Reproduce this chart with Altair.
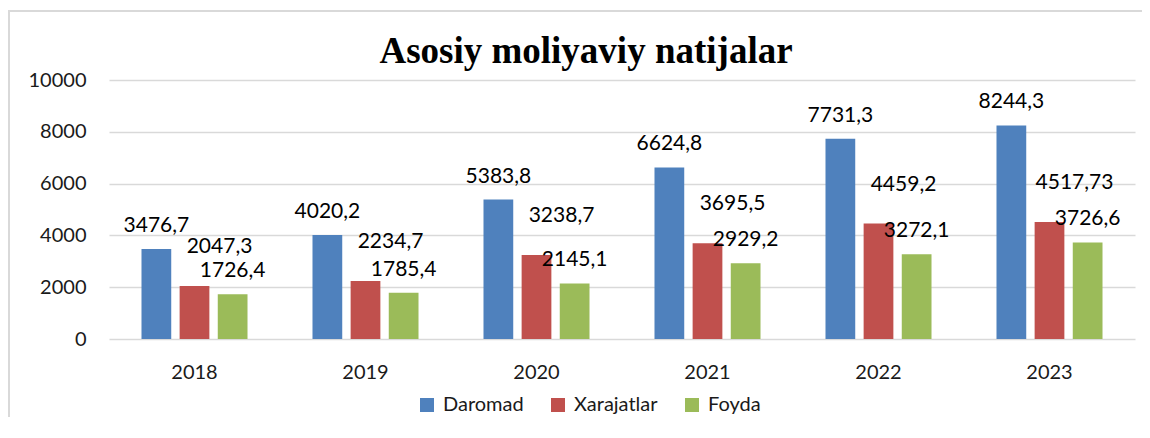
import altair as alt
import pandas as pd

years = ["2018", "2019", "2020", "2021", "2022", "2023"]
series = ["Daromad", "Xarajatlar", "Foyda"]
daromad = [3476.7, 4020.2, 5383.8, 6624.8, 7731.3, 8244.3]
xarajatlar = [2047.3, 2234.7, 3238.7, 3695.5, 4459.2, 4517.73]
foyda = [1726.4, 1785.4, 2145.1, 2929.2, 3272.1, 3726.6]
colors = ["#4F81BD", "#C0504D", "#9BBB59"]
y_ticks = [0, 2000, 4000, 6000, 8000, 10000]
title_text = "Asosiy moliyaviy natijalar"

rows = []
for s, vals in zip(series, [daromad, xarajatlar, foyda]):
    for yr, v in zip(years, vals):
        rows.append({"year": yr, "series": s, "value": v,
                     "label": str(v).replace(".", ",")})
df = pd.DataFrame(rows)

W, H = 1026, 259
txt = "#1a1a1a"
grid = "#d9d9d9"

x_enc = alt.X("year:N", sort=years,
              scale=alt.Scale(paddingInner=0.38, paddingOuter=0.19),
              axis=alt.Axis(title=None, labelAngle=0, ticks=False, domain=False,
                            labelFont="Lato", labelFontSize=20, labelColor=txt,
                            labelPadding=23, grid=False))
xo_enc = alt.XOffset("series:N", sort=series,
                     scale=alt.Scale(paddingInner=0.22, paddingOuter=0))
y_enc = alt.Y("value:Q", scale=alt.Scale(domain=[0, 10000], nice=False),
              axis=alt.Axis(title=None, values=y_ticks, format="d", ticks=False,
                            domain=False, grid=True, gridColor=grid, gridWidth=1.5,
                            labelFont="Lato", labelFontSize=20, labelColor=txt,
                            labelPadding=23))

bars = alt.Chart(df).mark_bar().encode(
    x=x_enc, xOffset=xo_enc, y=y_enc,
    color=alt.Color("series:N", sort=series,
                    scale=alt.Scale(domain=series, range=colors),
                    legend=alt.Legend(title=None, orient="none", legendX=308, legendY=315,
                                      direction="horizontal", symbolType="square",
                                      symbolSize=196, symbolStrokeWidth=0,
                                      labelFont="Lato", labelFontSize=20,
                                      labelColor=txt, labelOffset=6, columnPadding=24)),
)

text_bf = alt.Chart(df).mark_text(
    font="Lato", fontSize=21, color="#000000", baseline="alphabetic", dy=-17
).encode(x=x_enc, xOffset=xo_enc, y=y_enc, text="label:N").transform_filter(
    alt.FieldOneOfPredicate(field="series", oneOf=["Daromad", "Foyda"])
)

text_x = alt.Chart(df).mark_text(
    font="Lato", fontSize=21, color="#000000", baseline="alphabetic", dx=25, dy=-33
).encode(x=x_enc, xOffset=xo_enc, y=y_enc, text="label:N").transform_filter(
    alt.FieldEqualPredicate(field="series", equal="Xarajatlar")
)

one = pd.DataFrame({"k": [0]})
frame = alt.Chart(one).mark_rect(filled=False, stroke=grid, strokeWidth=2).encode(
    x=alt.value(-100), x2=alt.value(W + 200), y=alt.value(-69), y2=alt.value(H + 200))

chart = alt.layer(frame, bars, text_bf, text_x).properties(
    width=W, height=H,
    padding={"left": 101, "top": 72, "right": 7, "bottom": 78},
    autosize=alt.AutoSizeParams(type="none"),
    title=alt.Title(title_text, font="Liberation Serif", fontSize=37, fontWeight="bold",
                    color="#000000", anchor="middle", frame="group", dx=-36,
                    baseline="alphabetic", offset=-90),
).configure_view(stroke=None)

chart.save("out.html", embed_options={"renderer": "svg", "actions": False})
